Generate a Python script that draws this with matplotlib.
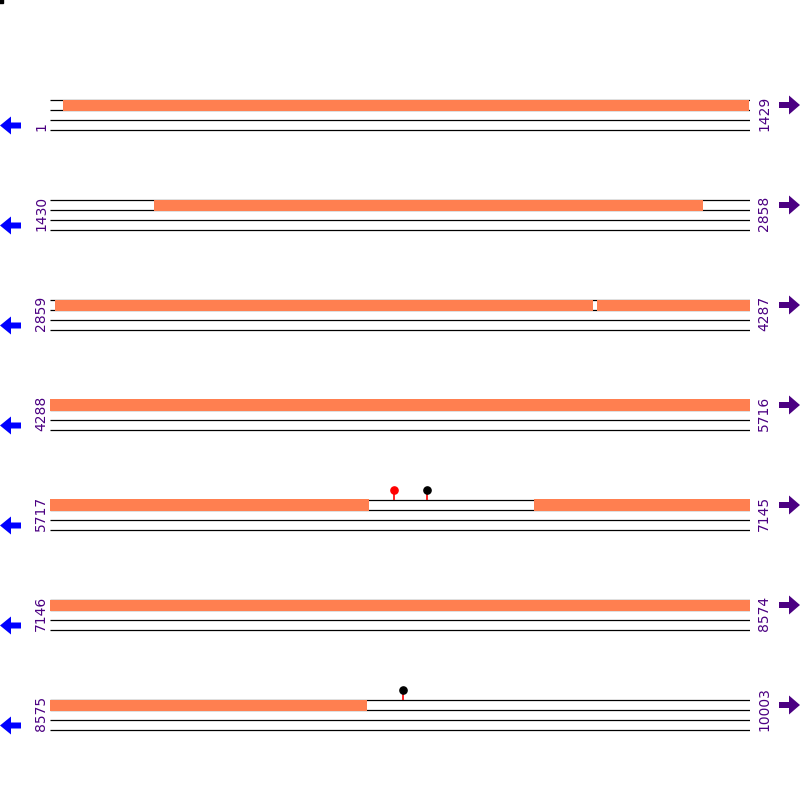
import matplotlib
matplotlib.use("Agg")
import matplotlib.pyplot as plt
from matplotlib.patches import FancyArrow

# Data
row_starts = [1, 1430, 2859, 4288, 5717, 7146, 8575]
row_ends = [1429, 2858, 4287, 5716, 7145, 8574, 10003]
feat_starts = [28, 1642, 2869, 3976, 6705]
feat_ends = [1427, 2763, 3967, 6368, 9222]
lolli_pos = [6419, 6487, 9296]
lolli_head = ['red', 'black', 'black']

ORANGE = '#FF7F50'
INDIGO = '#4B0082'

W = H = 800
fig = plt.figure(figsize=(8, 8), dpi=100)
fig.patch.set_facecolor('white')

# overlay in pixel coordinates for decorations
ov = fig.add_axes([0, 0, 1, 1], zorder=5)
ov.set_xlim(0, W)
ov.set_ylim(H, 0)
ov.axis('off')
ov.patch.set_alpha(0)

row_len = row_ends[0] - row_starts[0] + 1
for i, (rs, re) in enumerate(zip(row_starts, row_ends)):
    top = 100 + 100 * i
    ax = fig.add_axes([50 / W, 1 - (top + 35) / H, 700 / W, 50 / H], zorder=1)
    ax.set_xlim(rs, rs + row_len)
    ax.set_ylim(35, -15)
    ax.axis('off')
    ax.hlines([0, 10, 20, 30], rs, rs + row_len, color='black', lw=0.9, zorder=1)
    for fs, fe in zip(feat_starts, feat_ends):
        s = max(fs, rs)
        e = min(fe, re + 1)
        if s < e:
            ax.broken_barh([(s, e - s)], (-0.5, 11.2), facecolors=ORANGE,
                           edgecolor='none', zorder=2)
    for p, hc in zip(lolli_pos, lolli_head):
        if rs <= p <= re:
            ax.vlines(p, -10, 0, color='red', lw=1.2, zorder=3)
            ax.plot([p], [-10], 'o', color=hc, ms=5.2, mec=hc, zorder=4,
                    clip_on=False)
    # labels
    ov.text(41, top + 31, str(rs), rotation=90, ha='center', va='bottom',
            color=INDIGO, fontsize=10, family='DejaVu Sans')
    ov.text(764, top + 31, str(re), rotation=90, ha='center', va='bottom',
            color=INDIGO, fontsize=10, family='DejaVu Sans')
    # arrows
    ov.add_patch(FancyArrow(21, top + 25.5, -21, 0, width=6, head_width=18,
                            head_length=11, length_includes_head=True,
                            color='#0000FF', lw=0))
    ov.add_patch(FancyArrow(779, top + 5, 21, 0, width=6, head_width=19,
                            head_length=11, length_includes_head=True,
                            color=INDIGO, lw=0))

ov.plot([1], [1], 's', color='black', ms=2.2, clip_on=False)

fig.savefig('out.png', dpi=100, facecolor='white')
